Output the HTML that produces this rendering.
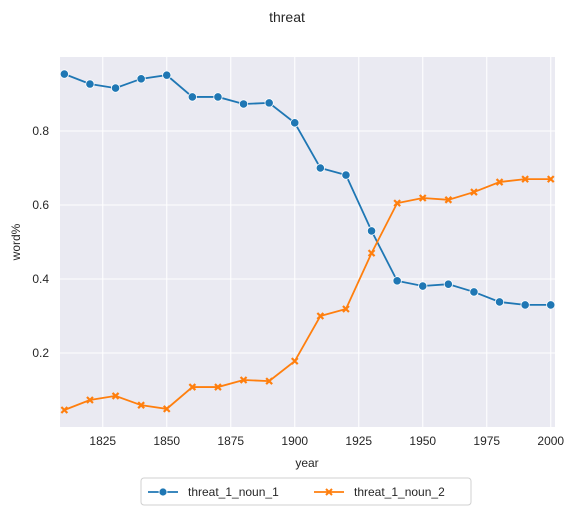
<!DOCTYPE html>
<html><head><meta charset="utf-8"><style>
body{margin:0;background:#fff;font-family:"Liberation Sans","DejaVu Sans",sans-serif}
text{font-family:"Liberation Sans","DejaVu Sans",sans-serif;fill:#262626}
</style></head><body>
<svg id="chart" width="575" height="515" xmlns="http://www.w3.org/2000/svg">
<text x="287" y="22" text-anchor="middle" font-size="14">threat</text>
<rect x="60" y="57" width="495" height="370" fill="#eaeaf2"/>
<g id="grid"></g><g id="ticks"></g><g id="series"></g>
<text x="307" y="467" text-anchor="middle" font-size="12">year</text>
<text transform="translate(20,242) rotate(-90)" text-anchor="middle" font-size="12">word%</text>
<g>
<rect x="141" y="478" width="330" height="27" fill="#fff" stroke="#d0d0d0" rx="3"/>
<g>
<line x1="148" y1="492" x2="178" y2="492" stroke="#1f77b4" stroke-width="1.8"/>
<circle cx="163" cy="492" r="4" fill="#1f77b4" stroke="#fff" stroke-width="0.8"/>
<text x="188" y="496" font-size="12">threat_1_noun_1</text></g>
<g>
<line x1="314" y1="492" x2="344" y2="492" stroke="#ff7f0e" stroke-width="1.8"/>
<path d="M326,489L332,495M326,495L332,489" stroke="#ff7f0e" stroke-width="2"/>
<text x="354" y="496" font-size="12">threat_1_noun_2</text></g>
</g>
</svg>
<script>
const years=[1810,1820,1830,1840,1850,1860,1870,1880,1890,1900,1910,1920,1930,1940,1950,1960,1970,1980,1990,2000];
const noun1=[0.954,0.927,0.916,0.941,0.951,0.892,0.892,0.873,0.876,0.822,0.700,0.681,0.530,0.395,0.381,0.386,0.365,0.338,0.330,0.330];
const noun2=[0.046,0.073,0.084,0.059,0.049,0.108,0.108,0.127,0.124,0.178,0.300,0.319,0.470,0.605,0.619,0.614,0.635,0.662,0.670,0.670];
const xTicks=[1825,1850,1875,1900,1925,1950,1975,2000];
const yTicks=[0.2,0.4,0.6,0.8];
const NS="http://www.w3.org/2000/svg";
const X=v=>60+(v-1808.3)*2.56, Y=v=>427-v*370;
function mk(tag,attrs,parent){const e=document.createElementNS(NS,tag);for(const k in attrs)e.setAttribute(k,attrs[k]);parent.appendChild(e);return e;}
const grid=document.getElementById('grid'),ticks=document.getElementById('ticks'),ser=document.getElementById('series');
xTicks.forEach(t=>{
 const l=mk('line',{x1:X(t),x2:X(t),y1:57,y2:427,stroke:'#fff','stroke-width':1},grid);
 
 
 const tx=mk('text',{x:X(t),y:445,'text-anchor':'middle','font-size':12},ticks);tx.textContent=t;
 
 
});
yTicks.forEach(t=>{
 const l=mk('line',{x1:60,x2:555,y1:Y(t),y2:Y(t),stroke:'#fff','stroke-width':1},grid);
 
 
 const tx=mk('text',{x:49,y:Y(t)+4,'text-anchor':'end','font-size':12},ticks);tx.textContent=t.toFixed(1);
 
 
});
function draw(vals,color,name,marker){
 const p=mk('polyline',{points:years.map((y,i)=>X(y)+','+Y(vals[i])).join(' '),fill:'none',stroke:color,'stroke-width':1.8},ser);
 
 
 years.forEach((y,i)=>{
  let m;
  if(marker==='o'){m=mk('circle',{cx:X(y),cy:Y(vals[i]),r:4.2,fill:color,stroke:'#fff','stroke-width':0.8},ser);}
  else{const cx=X(y),cy=Y(vals[i]),d=3;
   m=mk('path',{d:`M${cx-d},${cy-d}L${cx+d},${cy+d}M${cx-d},${cy+d}L${cx+d},${cy-d}`,stroke:color,'stroke-width':2.2},ser);}
  
  
 });
}
draw(noun1,'#1f77b4','noun-1','o');
draw(noun2,'#ff7f0e','noun-2','x');
</script>
</body></html>
